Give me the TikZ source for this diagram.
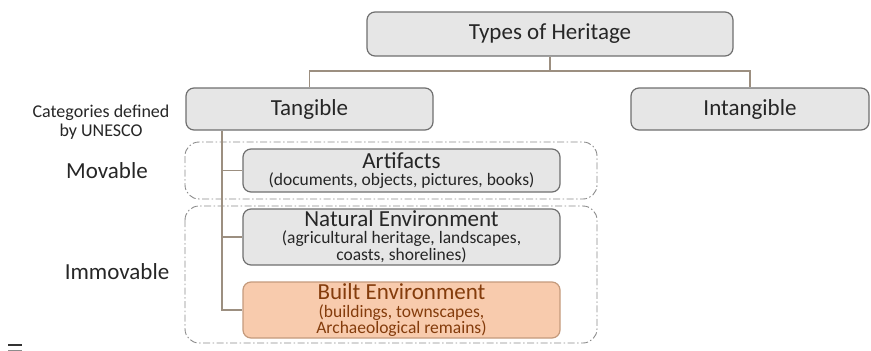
\documentclass[tikz,border=0pt]{standalone}
\usepackage{fontspec}
\setmainfont{Carlito}
\definecolor{boxfill}{HTML}{E6E6E6}
\definecolor{boxline}{HTML}{6F6F6F}
\definecolor{linkcol}{HTML}{9C8F80}
\definecolor{builtfill}{HTML}{F8CBAD}
\definecolor{builtline}{HTML}{C49A7C}
\definecolor{builttext}{HTML}{843C0C}
\definecolor{txt}{HTML}{262626}
\definecolor{dashcol}{HTML}{8A8A8A}
\tikzset{
  x=1pt, y=-1pt,
  hbox/.style={draw=boxline, fill=boxfill, line width=1.2pt, rounded corners=8pt,
    inner sep=0pt, align=center, text=txt},
  grpbox/.style={draw=dashcol, line width=0.9pt, rounded corners=14pt,
    dash pattern=on 7pt off 2.5pt on 1.5pt off 2.5pt},
  link/.style={draw=linkcol, line width=1.1pt},
  big/.style={font=\fontsize{23}{26}\selectfont},
  small/.style={font=\fontsize{18}{19}\selectfont},
}
\newcommand{\bigtxt}{\fontsize{23}{25}\selectfont}
\newcommand{\smalltxt}{\fontsize{17.5}{18.5}\selectfont}
\begin{document}
\begin{tikzpicture}
\useasboundingbox (0,0) rectangle (871,351);
% group boxes
\draw[grpbox] (185,142) rectangle (597,199);
\draw[grpbox] (185,206) rectangle (597,343);
% main boxes
\node[hbox, big, minimum width=366pt, minimum height=44pt] (types) at (550,34) {Types of Heritage};
\node[hbox, big, minimum width=247pt, minimum height=42pt] (tangible) at (309.5,109) {Tangible};
\node[hbox, big, minimum width=238pt, minimum height=42pt] (intangible) at (750,109) {Intangible};
\node[hbox, minimum width=317pt, minimum height=43pt] (artifacts) at (401.5,170.5)
  {\bigtxt Artifacts\\[3pt] \smalltxt (documents, objects, pictures, books)};
\node[hbox, minimum width=317pt, minimum height=56pt] (natural) at (401.5,237)
  {\bigtxt Natural Environment\\[3pt] \smalltxt (agricultural heritage, landscapes,\\[0.5pt] \smalltxt coasts, shorelines)};
\node[hbox, draw=builtline, fill=builtfill, text=builttext, minimum width=317pt, minimum height=56pt] (built) at (401.5,310)
  {\bigtxt Built Environment\\[4pt] \smalltxt (buildings, townscapes,\\[0pt] \smalltxt Archaeological remains)};
% side labels
\node[small, align=center, text=txt, inner sep=0pt] (cat) at (101,122) {Categories defined\\by UNESCO};
\node[big, text=txt, inner sep=0pt] (movable) at (107,171) {Movable};
\node[big, text=txt, inner sep=0pt] (immovable) at (117,272) {Immovable};
% connectors
\coordinate (bar) at (550,71);
\coordinate (trunk) at (222,0);
\draw[link] (types.south) -- (bar);
\draw[link] (tangible.north) -- (tangible.north |- bar) -- (intangible.north |- bar) -- (intangible.north);
\draw[link] (tangible.south -| trunk) |- (built.west);
\draw[link] (trunk |- artifacts.west) -- (artifacts.west);
\draw[link] (trunk |- natural.west) -- (natural.west);
% small marks at bottom left
\draw[line width=1.3pt, draw=black!80] (8,345) -- (22,345);
\draw[line width=1.3pt, draw=black!45] (8,350.5) -- (22,350.5);
\end{tikzpicture}
\end{document}
